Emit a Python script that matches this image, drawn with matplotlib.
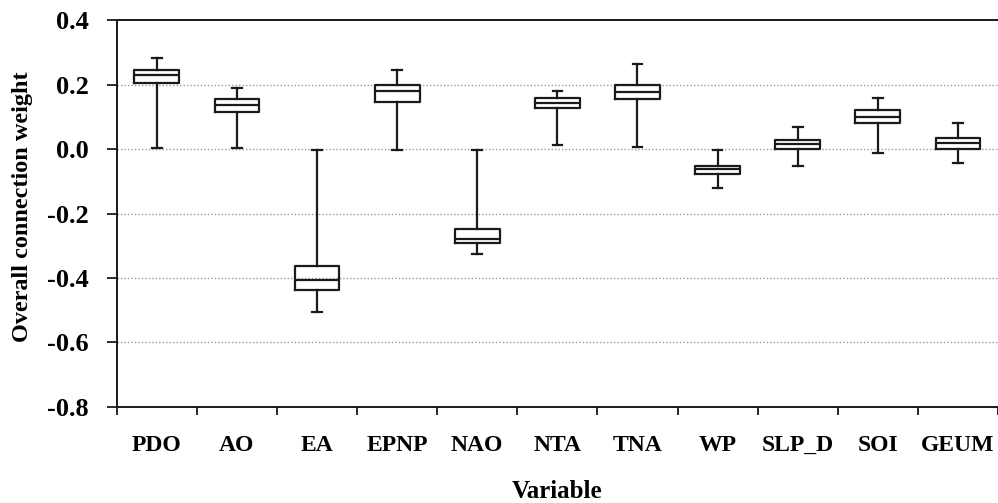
"""
Box plot of overall connection weight per climate variable
"""
# IMPORTS
import matplotlib
matplotlib.use("Agg")
import matplotlib.pyplot as plt
from matplotlib.ticker import FixedLocator, NullFormatter

# VARIABLES
variables = ["PDO", "AO", "EA", "EPNP", "NAO", "NTA", "TNA", "WP", "SLP_D", "SOI", "GEUM"]
whisker_low = [0.004, 0.004, -0.506, -0.003, -0.325, 0.012, 0.007, -0.120, -0.052, -0.013, -0.043]
quartile_1 = [0.206, 0.116, -0.438, 0.146, -0.291, 0.128, 0.154, -0.078, 0.001, 0.082, 0.001]
medians = [0.229, 0.137, -0.407, 0.180, -0.279, 0.143, 0.177, -0.062, 0.015, 0.099, 0.018]
quartile_3 = [0.246, 0.156, -0.364, 0.198, -0.249, 0.159, 0.198, -0.052, 0.027, 0.121, 0.035]
whisker_high = [0.284, 0.189, -0.003, 0.245, -0.003, 0.180, 0.263, -0.003, 0.069, 0.158, 0.082]
y_ticks = [-0.8, -0.6, -0.4, -0.2, 0.0, 0.2, 0.4]

# EXECUTION
plt.rcParams['font.family'] = ['Liberation Serif', 'DejaVu Serif']
plt.rcParams['font.weight'] = 'bold'

fig = plt.figure(figsize=(9.98, 5.03), dpi=100)
ax = fig.add_axes([0.117, 0.191, 0.883, 0.769])

# Build the stats the library needs for bxp
stats = []
for name, lo, q1, med, q3, hi in zip(variables, whisker_low, quartile_1, medians, quartile_3, whisker_high):
    stats.append({"label": name, "whislo": lo, "q1": q1, "med": med, "q3": q3, "whishi": hi, "fliers": []})

line_color = "#1a1a1a"
ax.bxp(stats,
       positions=range(1, len(variables) + 1),
       widths=0.56,
       showfliers=False,
       boxprops=dict(color=line_color, linewidth=1.6),
       medianprops=dict(color=line_color, linewidth=1.6),
       whiskerprops=dict(color=line_color, linewidth=1.6),
       capprops=dict(color=line_color, linewidth=1.6),
       capwidths=0.12,
       zorder=3)

# Axis limits and grid
ax.set_xlim(0.5, len(variables) + 0.5)
ax.set_ylim(-0.8, 0.4)
ax.set_yticks(y_ticks)
ax.set_yticklabels([f"{v:.1f}" for v in y_ticks])
for v in y_ticks[1:-1]:
    ax.axhline(v, color="#999999", linestyle=(0, (1, 1.5)), linewidth=1.0, zorder=1)

# Category labels in the middle, tick marks at the boundaries
ax.set_xticks(range(1, len(variables) + 1))
ax.set_xticklabels(variables)
ax.xaxis.set_minor_locator(FixedLocator([i + 0.5 for i in range(len(variables) + 1)]))
ax.xaxis.set_minor_formatter(NullFormatter())
ax.tick_params(axis="x", which="major", length=0, pad=20, labelsize=17)
ax.tick_params(axis="x", which="minor", length=6, width=1.3, direction="out", color=line_color)
ax.tick_params(axis="y", which="major", length=7, width=1.3, direction="out", pad=13, labelsize=19, color=line_color)

# Spines
ax.spines["right"].set_visible(False)
for side in ["left", "bottom", "top"]:
    ax.spines[side].set_linewidth(1.4)
    ax.spines[side].set_color(line_color)

ax.set_xlabel("Variable", fontsize=18, fontweight="bold")
ax.set_ylabel("Overall connection weight", fontsize=17.5, fontweight="bold")
ax.xaxis.set_label_coords(0.5, -0.19)
ax.yaxis.set_label_coords(-0.095, 0.517)

# OUTPUT
fig.savefig("out.png", dpi=100)
